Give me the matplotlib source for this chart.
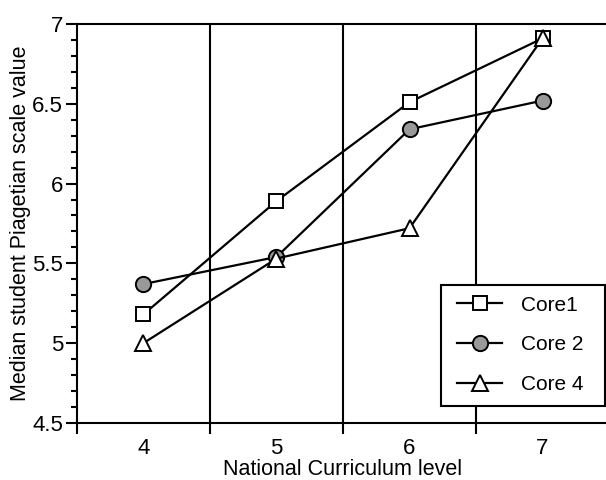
import matplotlib
matplotlib.use("Agg")
import matplotlib.pyplot as plt
from matplotlib.patches import Rectangle
from matplotlib.ticker import FixedLocator, MultipleLocator, FormatStrFormatter

plt.rcParams["font.family"] = ["Liberation Sans", "DejaVu Sans"]

# data
levels = [4, 5, 6, 7]
core1 = [5.18, 5.89, 6.51, 6.91]
core2 = [5.37, 5.54, 6.34, 6.52]
core4 = [5.00, 5.53, 5.72, 6.91]
level_bounds = [4.5, 5.5, 6.5]

fig = plt.figure(figsize=(6.06, 4.80), dpi=100)
ax = fig.add_axes([0.127, 0.119, 0.878, 0.831])

# category separators
for b in level_bounds:
    ax.axvline(b, color="black", lw=1.5, zorder=1)

line_kw = dict(color="black", lw=1.6, markeredgecolor="black", markeredgewidth=1.4, zorder=3)
ax.plot(levels, core1, marker="s", markersize=9.5, markerfacecolor="white", label="Core1", **line_kw)
ax.plot(levels, core2, marker="o", markersize=11, markerfacecolor="#999999", label="Core 2", **line_kw)
ax.plot(levels, core4, marker="^", markersize=11, markerfacecolor="white", label="Core 4", **line_kw)

ax.set_xlim(3.5, 7.5)
ax.set_ylim(4.5, 7)

ax.xaxis.set_major_locator(FixedLocator(levels))
ax.xaxis.set_minor_locator(FixedLocator([3.5] + level_bounds + [7.5]))
ax.yaxis.set_major_locator(MultipleLocator(0.5))
ax.yaxis.set_minor_locator(MultipleLocator(0.1))
ax.yaxis.set_major_formatter(FormatStrFormatter("%g"))

ax.tick_params(axis="x", which="major", length=0, pad=11, labelsize=16)
ax.tick_params(axis="x", which="minor", length=8, width=1.5, direction="out")
ax.tick_params(axis="y", which="major", length=8, width=1.5, direction="out", pad=2, labelsize=16)
ax.tick_params(axis="y", which="minor", length=4.3, width=1.5, direction="out")

for s in ax.spines.values():
    s.set_linewidth(1.5)

ax.set_xlabel("National Curriculum level", fontsize=15.5, labelpad=0)
ax.set_ylabel("Median student Piagetian scale value", fontsize=15.5, labelpad=1)

# legend box drawn separately so it runs to the right edge like the original
box = Rectangle((441 / 606, 1 - 406 / 480), (605 - 441) / 606, 121 / 480,
                transform=fig.transFigure, facecolor="white", edgecolor="black",
                lw=1.5, clip_on=False, zorder=4.5)
ax.add_patch(box)

leg = ax.legend(loc="upper left", bbox_to_anchor=(441 / 606, 1 - 280 / 480),
                bbox_transform=fig.transFigure, borderaxespad=0, frameon=False,
                fontsize=15, handlelength=2.2, handletextpad=0.9,
                labelspacing=0.99, borderpad=0.75)

fig.savefig("out.png", dpi=100)
